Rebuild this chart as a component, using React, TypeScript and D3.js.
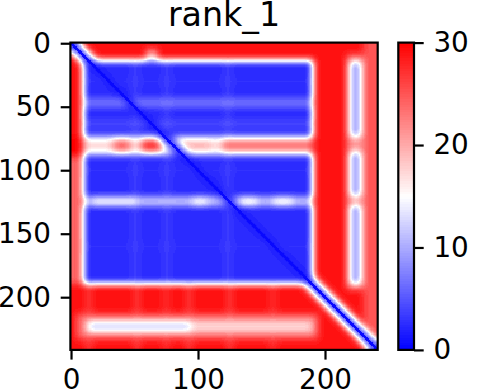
import React, { useRef, useEffect } from 'react';
import * as d3 from 'd3';

// Predicted aligned error map, rank_1 model (values in Å, colour range 0..30)
const N = 242;
const background = 29;

type Block = [number, number, number, number, number]; // rowStart, rowEnd, colStart, colEnd (end exclusive), value

// lighter patches on the red margins
const marginBlocks: Block[] = [
  [90, 190, 0, 8, 24],
  [6, 14, 60, 68, 18],
];

// the large confident domain
const domainBlocks: Block[] = [[14, 190, 10, 191, 2.5]];

// faint streaks inside the domain
const domainStreaks: Block[] = [
  [14, 190, 50, 52, 5.5],
  [14, 190, 75, 77, 5.5],
  [14, 190, 123, 125, 5.5],
  [30, 31, 10, 191, 4.5],
  [100, 101, 10, 191, 4.5],
  [160, 161, 10, 191, 4.5],
];

// horizontal bands that cross the domain
const rowBands: Block[] = [
  [45, 47, 10, 191, 11],
  [48, 50, 10, 191, 10],
  [63, 65, 10, 191, 8],
  [74, 88, 10, 191, 17],
  [76, 86, 34, 47, 24],
  [76, 86, 56, 71, 27],
  [76, 86, 85, 110, 19],
  [76, 86, 120, 191, 23],
  [74, 88, 0, 10, 30],
  [122, 128, 10, 191, 14],
  [123, 127, 18, 52, 20],
  [123, 127, 96, 108, 21],
  [123, 127, 133, 147, 22],
  [123, 127, 160, 175, 22],
];

// the short segments in columns ~220-228
const columnHalo: Block[] = [
  [10, 194, 218, 231, 21],
  [0, 242, 231, 242, 25],
];
const columnStripes: Block[] = [
  [15, 74, 220, 229, 9],
  [86, 121, 220, 229, 9],
  [128, 190, 220, 229, 9],
];

// red region under the domain
const bottomStreaks: Block[] = [
  [190, 242, 13, 16, 25],
  [190, 242, 51, 54, 25],
  [190, 242, 74, 77, 26],
  [190, 242, 92, 95, 25],
  [190, 242, 124, 127, 25],
  [190, 242, 158, 161, 26],
];
const bottomHalo: Block[] = [[214, 233, 5, 195, 23]];
const bottomStripes: Block[] = [
  [219, 228, 13, 95, 12],
  [219, 228, 95, 191, 17],
];

// [half width, value] around the diagonal
const diagonalBands: [number, number][] = [
  [3, 1],
  [7, 11],
];
const diagonalCore: [number, number][] = [[1, 0.5]];

const xTicks = [0, 100, 200];
const yTicks = [0, 50, 100, 150, 200];
const colorTicks = [0, 10, 20, 30];

const buildGrid = () => {
  let grid = Array.from({ length: N }, () => new Array<number>(N).fill(background));
  const paint = (blocks: Block[]) =>
    blocks.forEach(([r0, r1, c0, c1, v]) => {
      for (let r = r0; r < Math.min(r1, N); r++)
        for (let c = c0; c < Math.min(c1, N); c++) grid[r][c] = v;
    });
  paint(marginBlocks);
  paint(domainBlocks);
  paint(domainStreaks);
  paint(rowBands);
  paint(columnHalo);
  paint(columnStripes);
  paint(bottomStreaks);
  paint(bottomHalo);
  paint(bottomStripes);

  const diag = (bands: [number, number][]) => {
    for (let r = 0; r < N; r++)
      for (let c = 0; c < N; c++) {
        const d = Math.abs(r - c);
        bands.forEach(([w, v]) => {
          if (d <= w) grid[r][c] = Math.min(grid[r][c], v);
        });
      }
  };
  diag(diagonalBands);

  // soften block edges (in value space, so the transition goes through white)
  const radius = 3;
  const boxBlur = (src: number[][], horizontal: boolean) =>
    src.map((row, r) =>
      row.map((_, c) => {
        let s = 0;
        for (let k = -radius; k <= radius; k++) {
          const rr = horizontal ? r : Math.max(0, Math.min(N - 1, r + k));
          const cc = horizontal ? Math.max(0, Math.min(N - 1, c + k)) : c;
          s += src[rr][cc];
        }
        return s / (2 * radius + 1);
      })
    );
  for (let pass = 0; pass < 2; pass++) {
    grid = boxBlur(grid, true);
    grid = boxBlur(grid, false);
  }
  diag(diagonalCore);
  return grid;
};

const App: React.FC = () => {
  const svgRef = useRef<SVGSVGElement>(null);

  useEffect(() => {
    if (!svgRef.current) return;
    const svg = d3.select(svgRef.current);
    svg.selectAll('*').remove();

    const left = 70.4;
    const top = 42.6;
    const size = 307.3;
    const font = 'DejaVu Sans';
    const tickFont = '27.8px';
    const tickLen = 9.7;

    const x = d3.scaleLinear().domain([-0.5, N - 0.5]).range([left, left + size]);
    const y = d3.scaleLinear().domain([-0.5, N - 0.5]).range([top, top + size]);
    const color = d3
      .scaleLinear<string>()
      .domain([0, 15, 30])
      .range(['#0000ff', '#ffffff', '#ff0000'])
      .clamp(true);

    const grid = buildGrid();

    // heatmap cells, merged into runs of equal colour per row
    const cells = svg.append('g').attr('shape-rendering', 'crispEdges');
    const q = (v: number) => Math.round(v * 2) / 2;
    grid.forEach((row, r) => {
      let c0 = 0;
      for (let c = 1; c <= N; c++) {
        if (c === N || q(row[c]) !== q(row[c0])) {
          cells
            .append('rect')
            .attr('x', x(c0 - 0.5))
            .attr('y', y(r - 0.5))
            .attr('width', x(c - 0.5) - x(c0 - 0.5))
            .attr('height', y(r + 0.5) - y(r - 0.5))
            .attr('fill', color(q(row[c0])));
          c0 = c;
        }
      }
    });

    // axes
    const styleAxis = (g: d3.Selection<SVGGElement, unknown, null, undefined>) => {
      g.select('.domain').remove();
      g.selectAll('line').attr('stroke', '#000').attr('stroke-width', 2.2);
      g.selectAll('text').attr('font-family', font).attr('font-size', tickFont).attr('fill', '#000');
    };

    svg
      .append('g')
      .attr('transform', `translate(0,${top + size})`)
      .call(d3.axisBottom(x).tickValues(xTicks).tickSize(tickLen).tickPadding(tickLen).tickFormat(d3.format('d')))
      .call(styleAxis);

    svg
      .append('g')
      .attr('transform', `translate(${left},0)`)
      .call(d3.axisLeft(y).tickValues(yTicks).tickSize(tickLen).tickPadding(tickLen).tickFormat(d3.format('d')))
      .call(styleAxis);

    svg
      .append('rect')
      .attr('x', left)
      .attr('y', top)
      .attr('width', size)
      .attr('height', size)
      .attr('fill', 'none')
      .attr('stroke', '#000')
      .attr('stroke-width', 2.2);

    // title
    svg
      .append('text')
      .attr('x', left + size / 2)
      .attr('y', top - 16.7)
      .attr('text-anchor', 'middle')
      .attr('font-family', font)
      .attr('font-size', '33.3px')
      .attr('fill', '#000')
      .text('rank_1');

    // colorbar
    const cbLeft = 398.3;
    const cbWidth = 15.7;
    const cb = d3.scaleLinear().domain([0, 30]).range([top + size, top]);
    const steps = d3.range(0, 30, 0.25);
    svg
      .append('g')
      .attr('shape-rendering', 'crispEdges')
      .selectAll('rect')
      .data(steps)
      .join('rect')
      .attr('x', cbLeft)
      .attr('y', (d) => cb(d + 0.25))
      .attr('width', cbWidth)
      .attr('height', (d) => cb(d) - cb(d + 0.25) + 0.5)
      .attr('fill', (d) => color(d + 0.125));

    svg
      .append('g')
      .attr('transform', `translate(${cbLeft + cbWidth},0)`)
      .call(d3.axisRight(cb).tickValues(colorTicks).tickSize(tickLen).tickPadding(tickLen).tickFormat(d3.format('d')))
      .call(styleAxis);

    svg
      .append('rect')
      .attr('x', cbLeft)
      .attr('y', top)
      .attr('width', cbWidth)
      .attr('height', size)
      .attr('fill', 'none')
      .attr('stroke', '#000')
      .attr('stroke-width', 2.2);
  }, []);

  return (
    <svg
      ref={svgRef}
      width={484}
      height={392}
      style={{ position: 'absolute', left: 0, top: 0, background: '#fff' }}
    />
  );
};

export default App;
